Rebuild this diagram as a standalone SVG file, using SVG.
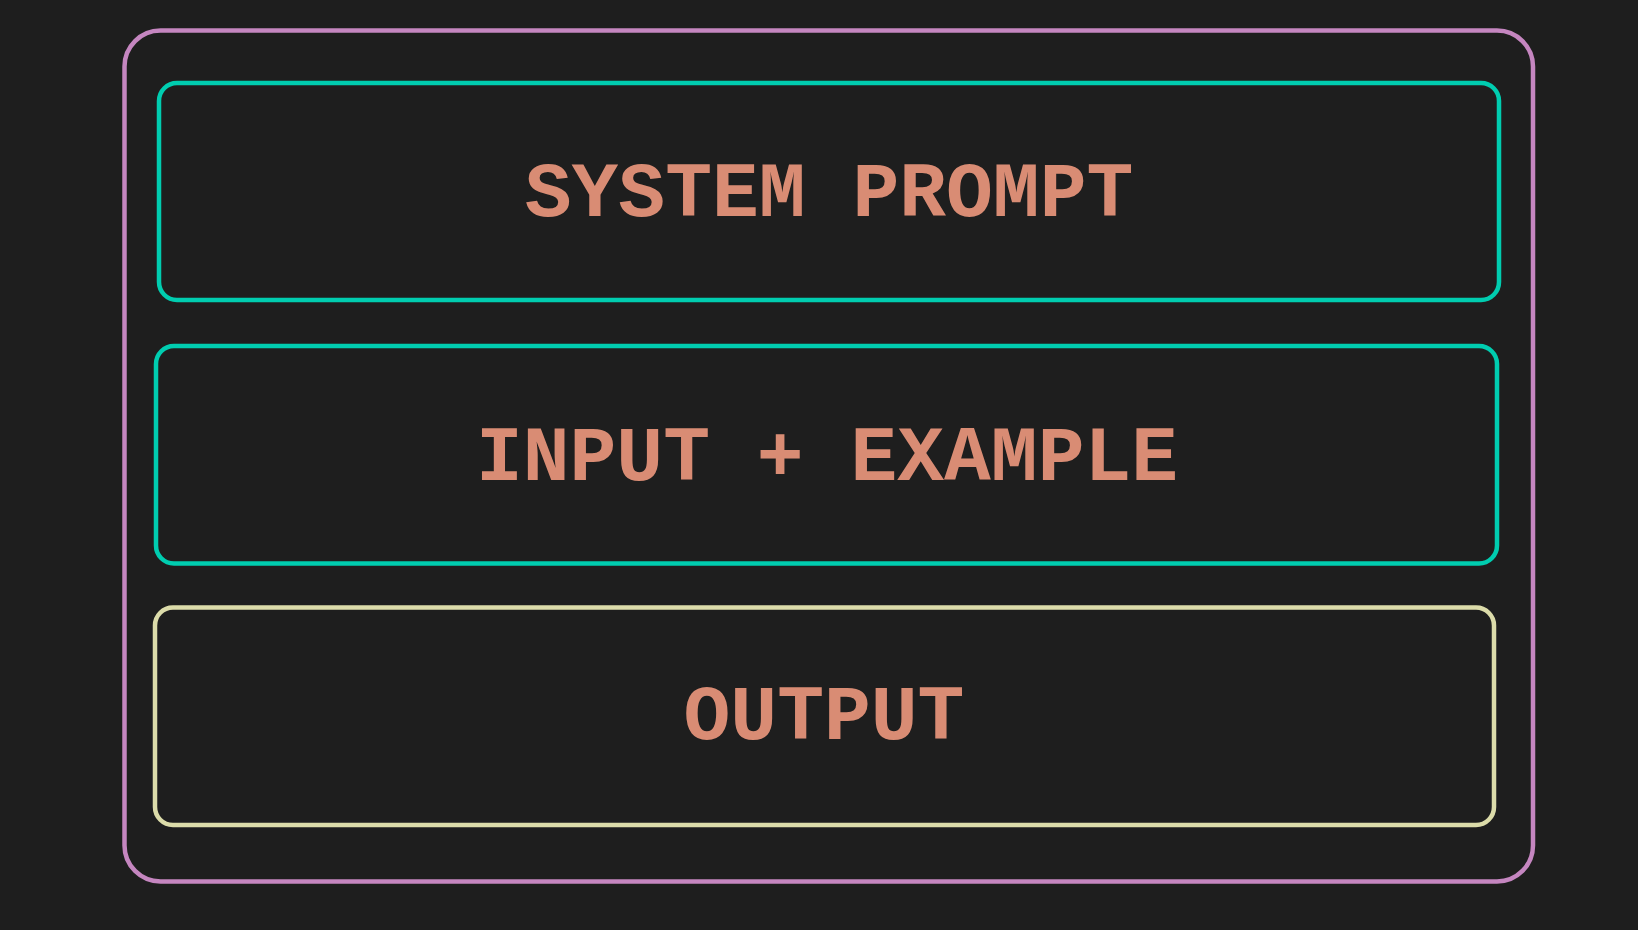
<svg xmlns="http://www.w3.org/2000/svg" width="1638" height="930" viewBox="0 0 1638 930">
<style>
.box{fill:none;stroke-width:4.5}
.lbl{font-family:"Liberation Mono","Courier New",monospace;font-weight:bold;font-size:78px;fill:#d98c74;text-anchor:middle}
</style>
<rect width="1638" height="930" fill="#1e1e1e"/>
<g id="container">
<rect class="box" x="124.5" y="30.5" width="1408.5" height="851" rx="36" stroke="#c586c0"/>
</g>
<g id="system-prompt">
<rect class="box" x="159" y="83" width="1340" height="217" rx="18" stroke="#00cdb0"/>
<text class="lbl" x="829" y="216">SYSTEM PROMPT</text>
</g>
<g id="input-example">
<rect class="box" x="156" y="346" width="1341" height="217.5" rx="18" stroke="#00cdb0"/>
<text class="lbl" x="827" y="480">INPUT + EXAMPLE</text>
</g>
<g id="output">
<rect class="box" x="155" y="607.5" width="1339" height="217.5" rx="18" stroke="#dcdcaa"/>
<text class="lbl" x="824" y="739">OUTPUT</text>
</g>
<g id="connectors"/>
</svg>
